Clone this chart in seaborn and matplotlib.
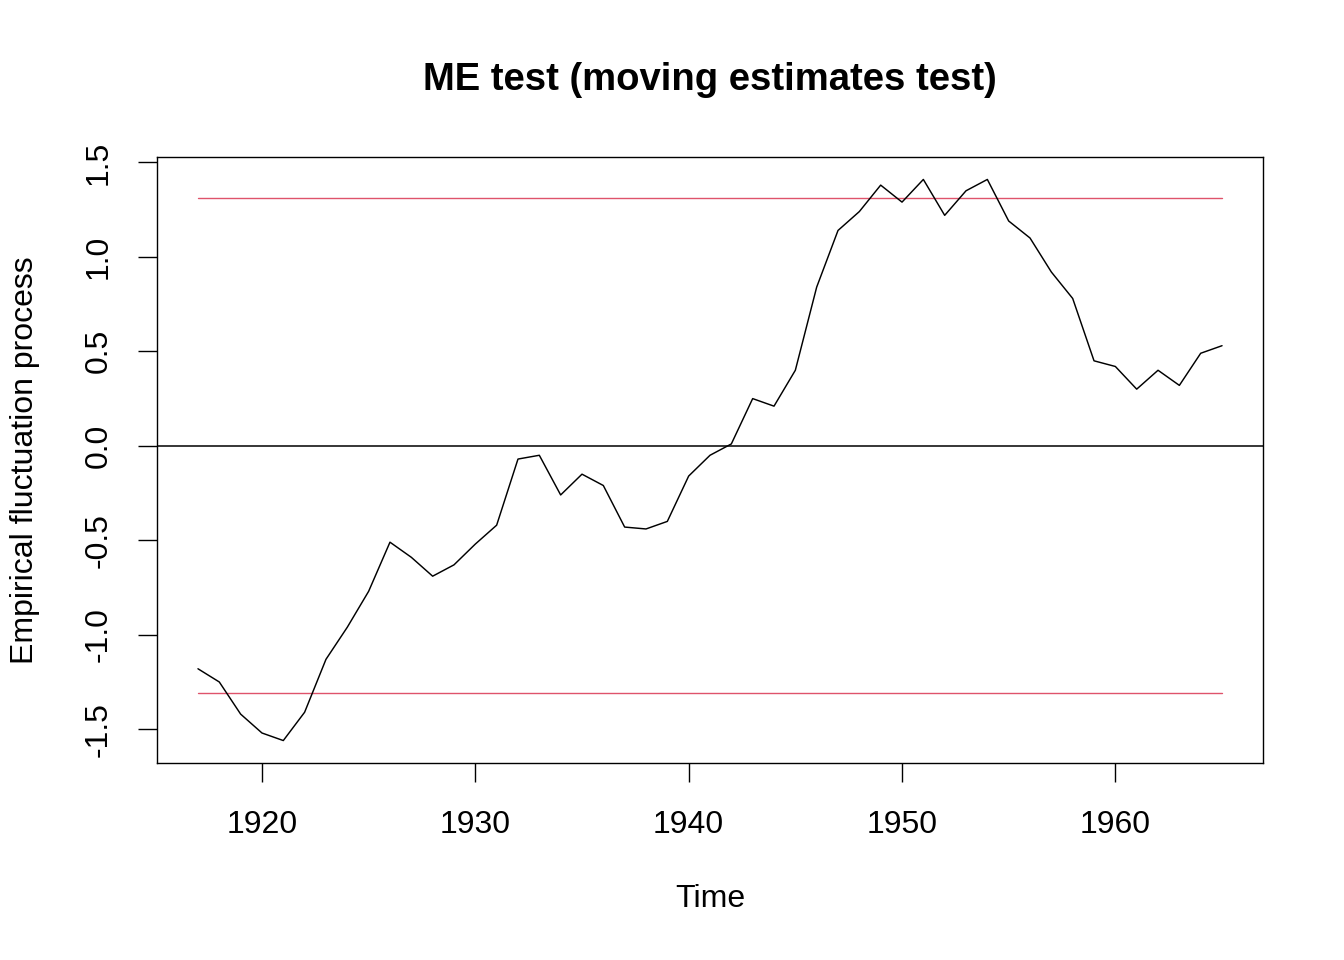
import numpy as np
import pandas as pd
import matplotlib
matplotlib.use("Agg")
import matplotlib.pyplot as plt
import seaborn as sns

# -----------------------------
# data
# -----------------------------
years = list(range(1917, 1966))
process = [
    -1.18, -1.25, -1.42, -1.52, -1.56, -1.41, -1.13, -0.96, -0.77, -0.51,
    -0.59, -0.69, -0.63, -0.52, -0.42, -0.07, -0.05, -0.26, -0.15, -0.21,
    -0.43, -0.44, -0.40, -0.16, -0.05, 0.01, 0.25, 0.21, 0.40, 0.84,
    1.14, 1.24, 1.38, 1.29, 1.41, 1.22, 1.35, 1.41, 1.19, 1.10,
    0.92, 0.78, 0.45, 0.42, 0.30, 0.40, 0.32, 0.49, 0.53,
]
boundary = 1.31
x_ticks = [1920, 1930, 1940, 1950, 1960]
y_ticks = [-1.5, -1.0, -0.5, 0.0, 0.5, 1.0, 1.5]

df = pd.DataFrame({"Time": years, "value": process})
bounds = pd.DataFrame({
    "Time": years * 2,
    "value": [boundary] * len(years) + [-boundary] * len(years),
    "side": ["upper"] * len(years) + ["lower"] * len(years),
})

# -----------------------------
# style
# -----------------------------
sns.set_theme(style="white")
plt.rcParams["font.family"] = ["Liberation Sans", "DejaVu Sans"]

fig = plt.figure(figsize=(13.44, 9.6), dpi=100)
ax = fig.add_axes([157 / 1344, 1 - 763 / 960, 1106 / 1344, 606 / 960])

red = "#DF536B"
sns.lineplot(data=bounds, x="Time", y="value", units="side", estimator=None,
             color=red, linewidth=1.0, ax=ax)
ax.axhline(0, color="black", linewidth=1.1)
sns.lineplot(data=df, x="Time", y="value", color="black", linewidth=1.05, ax=ax)

# R-like 4% axis expansion
x0, x1 = min(years), max(years)
dx = (x1 - x0) * 0.04
ax.set_xlim(x0 - dx, x1 + dx)
y0 = min(min(process), -boundary)
y1 = max(max(process), boundary)
dy = (y1 - y0) * 0.04
ax.set_ylim(y0 - dy, y1 + dy)

ax.set_xticks(x_ticks)
ax.set_xticklabels([str(t) for t in x_ticks])
ax.set_yticks(y_ticks)
ax.set_yticklabels([f"{t:.1f}" for t in y_ticks], rotation=90, va="center")
ax.tick_params(axis="both", direction="out", length=14, width=1.0,
               color="black", labelsize=23, labelcolor="black",
               bottom=True, left=True)
ax.tick_params(axis="x", pad=20)
ax.tick_params(axis="y", pad=17)

for sp in ax.spines.values():
    sp.set_visible(True)
    sp.set_color("black")
    sp.set_linewidth(1.0)

ax.set_xlabel("Time", fontsize=23, color="black", va="center")
ax.xaxis.set_label_coords(0.5, (763 - 899) / 606)
ax.set_ylabel("Empirical fluctuation process", fontsize=23, color="black",
              va="center")
ax.yaxis.set_label_coords((25 - 157) / 1106, 0.5)

ax.set_title("ME test (moving estimates test)", fontsize=27.5,
             fontweight="bold", color="black", y=1 + (157 - 80) / 606,
             va="center", pad=0)

fig.savefig("out.png", dpi=100, facecolor="white")
